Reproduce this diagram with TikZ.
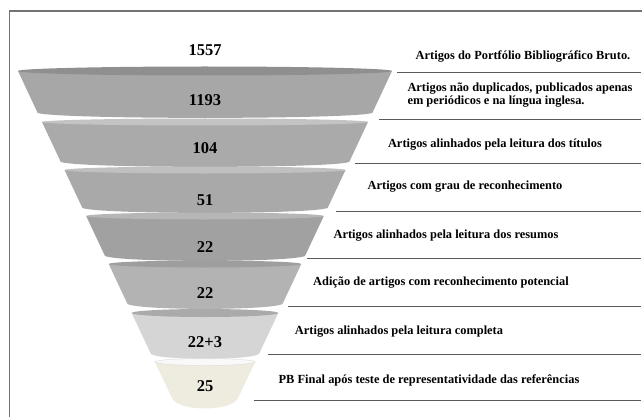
\documentclass[tikz,border=0pt]{standalone}
\usepackage{fontspec}
\setmainfont{Liberation Serif}
\definecolor{bodyA}{HTML}{A7A7A7}
\definecolor{rimA}{HTML}{8F8F8F}
\definecolor{bodyB}{HTML}{AAAAAA}
\definecolor{rimB}{HTML}{C3C3C3}
\definecolor{bodyC}{HTML}{A9A9A9}
\definecolor{rimC}{HTML}{C0C0C0}
\definecolor{bodyD}{HTML}{A1A1A1}
\definecolor{rimD}{HTML}{B6B6B6}
\definecolor{bodyE}{HTML}{B3B3B3}
\definecolor{rimE}{HTML}{9E9E9E}
\definecolor{bodyF}{HTML}{D5D5D5}
\definecolor{rimF}{HTML}{AAAAAA}
\definecolor{bodyG}{HTML}{EEECDF}
\definecolor{rimG}{HTML}{F9F9F9}
\begin{document}
\begin{tikzpicture}[x=1pt,y=-1pt,
    count/.style={font=\fontsize{16.5}{18}\selectfont\bfseries},
    label/.style={font=\fontsize{12.4}{13.5}\selectfont\bfseries},
    sepline/.style={draw=black!65,line width=1pt},
    frameline/.style={draw=black!55,line width=1.4pt}]
  \useasboundingbox (0,0) rectangle (642,417);
  % frame
  \draw[frameline] (9.5,417) -- (9.5,11) -- (642,11);
  % funnel layers, top to bottom
  \fill[bodyA] (18,71) -- (37.7,113) .. controls (60,119.5) and (350,119.5) .. (372.3,113) -- (392,71) -- cycle;
  \fill[rimA] (205,71) ellipse [x radius=187pt, y radius=4.5pt];
  \fill[bodyB] (42,122) -- (60.8,162) .. controls (80,168.5) and (330,168.5) .. (349.2,162) -- (368,122) -- cycle;
  \fill[rimB] (205,122) ellipse [x radius=163pt, y radius=3.5pt];
  \fill[bodyC] (64.5,170) -- (82.4,208) .. controls (100,214.5) and (310,214.5) .. (327.6,208) -- (345.5,170) -- cycle;
  \fill[rimC] (205,170) ellipse [x radius=140.5pt, y radius=3.5pt];
  \fill[bodyD] (86.2,216) -- (105,256) .. controls (120,262.5) and (290,262.5) .. (305,256) -- (323.8,216) -- cycle;
  \fill[rimD] (205,216) ellipse [x radius=118.8pt, y radius=3.5pt];
  \fill[bodyE] (108.7,264) -- (127.5,304) .. controls (140,310.5) and (270,310.5) .. (282.5,304) -- (301.3,264) -- cycle;
  \fill[rimE] (205,264) ellipse [x radius=96.3pt, y radius=3.5pt];
  \fill[bodyF] (131.7,313) -- (151,354) .. controls (160,360.5) and (250,360.5) .. (259,354) -- (278.3,313) -- cycle;
  \fill[rimF] (205,313) ellipse [x radius=73.3pt, y radius=4pt];
  \fill[bodyG] (154.8,362) -- (172,398) .. controls (178,412) and (232,412) .. (238,398) -- (255.2,362) -- cycle;
  \fill[rimG, draw=black!15] (205,362) ellipse [x radius=50.2pt, y radius=3.5pt];
  % counts
  \node[count] (n1) at (205,50) {1557};
  \node[count] (n2) at (205,100) {1193};
  \node[count] (n3) at (205,148) {104};
  \node[count] (n4) at (205,200) {51};
  \node[count] (n5) at (205,247) {22};
  \node[count] (n6) at (205,293) {22};
  \node[count] (n7) at (205,342) {22+3};
  \node[count] (n8) at (205,386) {25};
  % descriptions
  \node[label] (l1) at (523,57) {Artigos do Portfólio Bibliográfico Bruto.};
  \node[label,align=left,anchor=west] (l2) at (404,95) {Artigos não duplicados, publicados apenas\\em periódicos e na língua inglesa.};
  \node[label] (l3) at (495,145) {Artigos alinhados pela leitura dos títulos};
  \node[label] (l4) at (465,187) {Artigos com grau de reconhecimento};
  \node[label] (l5) at (446,236) {Artigos alinhados pela leitura dos resumos};
  \node[label] (l6) at (441,283) {Adição de artigos com reconhecimento potencial};
  \node[label] (l7) at (399,332) {Artigos alinhados pela leitura completa};
  \node[label] (l8) at (429,380) {PB Final após teste de representatividade das referências};
  % separators
  \foreach \y/\x in {73/397,120/379,163/355,211/336,258/307,306/288,354/268,400/254}
    \draw[sepline] (\x,\y) -- (641,\y);
\end{tikzpicture}
\end{document}
